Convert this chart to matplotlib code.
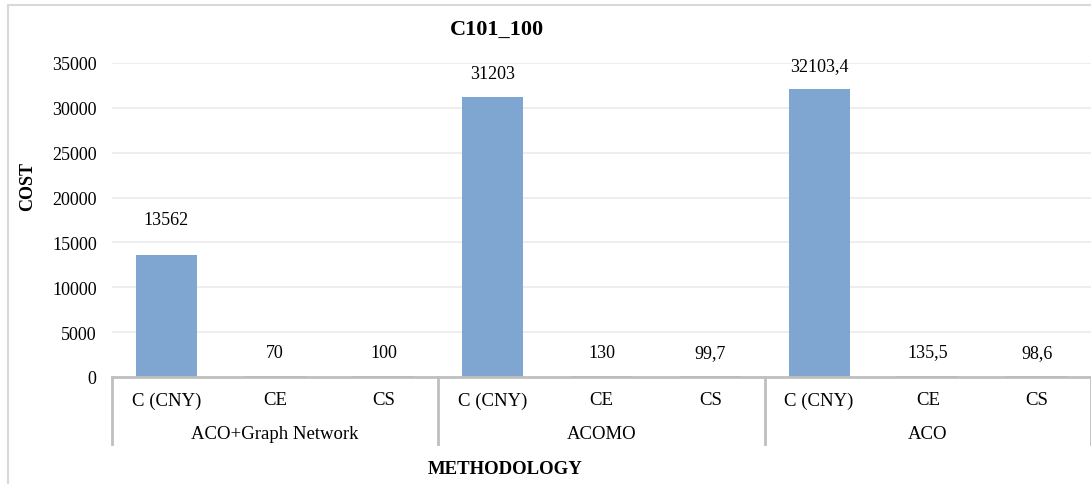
import matplotlib
matplotlib.use("Agg")
import matplotlib.pyplot as plt
from matplotlib.patches import Rectangle
import matplotlib.transforms as mtransforms

plt.rcParams['font.family'] = ['Liberation Serif', 'DejaVu Serif']

# datos del gráfico
metodos = ["ACO+Graph Network", "ACOMO", "ACO"]
metricas = ["C (CNY)", "CE", "CS"]
costes = [13562, 70, 100, 31203, 130, 99.7, 32103.4, 135.5, 98.6]
etiquetas = ["13562", "70", "100", "31203", "130", "99,7", "32103,4", "135,5", "98,6"]
yticks = [0, 5000, 10000, 15000, 20000, 25000, 30000, 35000]

color_barra = "#7fa6d0"
color_eje = "#bfbfbf"

fig = plt.figure(figsize=(10.91, 4.85), dpi=100)
# marco exterior del gráfico
fig.patches.append(Rectangle((8 / 1091, -0.05), 1.2, 1 - 6 / 485 + 0.05,
                             transform=fig.transFigure, fill=False,
                             edgecolor="#d9d9d9", linewidth=1.5))

ax = fig.add_axes([112 / 1091, 1 - 378 / 485, 1 - 112 / 1091, (378 - 64) / 485])

posiciones = list(range(len(costes)))
ax.bar(posiciones, costes, width=0.56, color=color_barra, zorder=3)

for x, v, txt in zip(posiciones, costes, etiquetas):
    dy = 20 if v > 10000 and v < 20000 else 11
    ax.annotate(txt, (x, v), xytext=(0, dy), textcoords="offset points",
                ha="center", va="bottom", fontsize=13)

ax.set_xlim(-0.5, len(costes) - 0.5)
ax.set_ylim(0, 35000)
ax.set_yticks(yticks)
ax.set_yticklabels([str(t) for t in yticks], fontsize=13)
ax.tick_params(axis="y", length=0, pad=11)
ax.set_xticks([])
ax.yaxis.grid(True, color="#ebebeb", linewidth=1.2, zorder=0)
for lado in ["top", "right", "left"]:
    ax.spines[lado].set_visible(False)
ax.spines["bottom"].set_color(color_eje)
ax.spines["bottom"].set_linewidth(2)
ax.spines["bottom"].set_zorder(4)

# etiquetas de categoría en dos niveles
trans = mtransforms.blended_transform_factory(ax.transData, fig.transFigure)
y_nivel1 = 1 - 401 / 485
y_nivel2 = 1 - 435 / 485
for i, x in enumerate(posiciones):
    ax.text(x, y_nivel1, metricas[i % 3], transform=trans, ha="center",
            va="center", fontsize=13.5)
for g, nombre in enumerate(metodos):
    ax.text(3 * g + 1, y_nivel2, nombre, transform=trans, ha="center",
            va="center", fontsize=13.5)

for xs in [-0.5, 2.5, 5.5, 8.5]:
    ax.plot([xs, xs], [1 - 378 / 485, 1 - 445 / 485], transform=trans,
            color=color_eje, linewidth=2, clip_on=False)

fig.text(497 / 1091, 1 - 30 / 485, "C101_100", ha="center", va="center",
         fontsize=16, fontweight="bold")
fig.text(505 / 1091, 1 - 470 / 485, "METHODOLOGY", ha="center", va="center",
         fontsize=13.5, fontweight="bold")
fig.text(28 / 1091, 1 - 187 / 485, "COST", ha="center", va="center",
         rotation=90, fontsize=13, fontweight="bold")

fig.savefig("out.png", dpi=100)
